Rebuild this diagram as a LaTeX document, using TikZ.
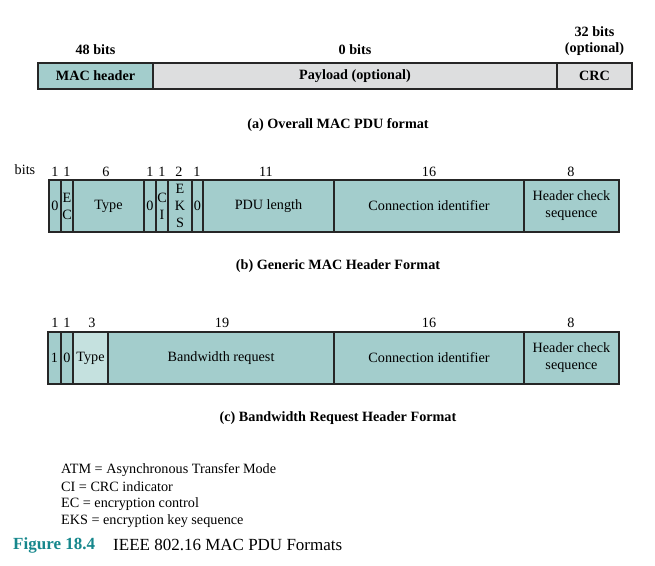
\documentclass[tikz,border=0pt]{standalone}
\usepackage{fontspec}
\setmainfont{Liberation Serif}
\usetikzlibrary{positioning}
\definecolor{cellteal}{RGB}{163,205,204}
\definecolor{celllight}{RGB}{197,225,223}
\definecolor{cellgray}{RGB}{221,222,223}
\definecolor{figteal}{RGB}{22,135,140}
\tikzset{
  cell/.style={line width=1.3pt, draw=black!85},
  lbl/.style={inner sep=0pt, align=center, font=\fontsize{14.2}{17}\selectfont},
  bitnum/.style={inner sep=0pt, font=\fontsize{14.2}{16}\selectfont},
  capt/.style={inner sep=0pt, font=\fontsize{14.2}{16}\selectfont\bfseries},
  legend/.style={inner sep=0pt, anchor=west, font=\fontsize{14.2}{16}\selectfont}
}

\begin{document}
\begin{tikzpicture}[x=1pt,y=-1pt]
\useasboundingbox (0,0) rectangle (655,565);
% (a) overall MAC PDU
\foreach \l/\r/\c in {38/153/cellteal, 153/557/cellgray, 557/632/cellgray} {
    \filldraw[cell, fill=\c] (\l,63) rectangle (\r,89);
}
\node[capt] (machdr) at (95.5,76) {MAC header};
\node[capt] (payload) at (355,76) {Payload (optional)};
\node[capt] (crc) at (594.5,76) {CRC};
\node[capt] (machdrbits) at (95.5,50) {48 bits};
\node[capt] (payloadbits) at (355,50) {0 bits};
\node[capt, align=center, font=\fontsize{14.2}{16.5}\selectfont\bfseries] (crcbits) at (594.5,41) {32 bits\\(optional)};
\node[capt] (capta) at (338,125) {(a) Overall MAC PDU format};

% (b) generic MAC header
\foreach \l/\r/\t [count=\i] in {49/61/0, 61/73/{E\\C}, 73/144/Type, 144/156/0,
    156/168/{C\\I}, 168/192/{E\\K\\S}, 192/203/0, 203/334/PDU length,
    334/524/Connection identifier, 524/619/{Header check\\sequence}} {
    \filldraw[cell, fill=cellteal] (\l,180) rectangle (\r,232);
    \node[lbl] (gen\i) at ({(\l+\r)/2},206) {\t};
}
\node[bitnum] (bitslbl) at (25,170) {bits};
\foreach \x/\t [count=\i] in {55/1, 67/1, 106/6, 150/1, 162/1, 179/2, 197/1, 266/11, 429/16, 571/8} {
    \node[bitnum] (genbits\i) at (\x,172) {\t};
}
\node[capt] (captb) at (338,266) {(b) Generic MAC Header Format};

% (c) bandwidth request header
\foreach \l/\r/\c/\t [count=\i] in {48/61/cellteal/1, 61/73/cellteal/0, 73/108/celllight/Type,
    108/334/cellteal/Bandwidth request, 334/524/cellteal/Connection identifier,
    524/619/cellteal/{Header check\\sequence}} {
    \filldraw[cell, fill=\c] (\l,332) rectangle (\r,384);
    \node[lbl] (bw\i) at ({(\l+\r)/2},358) {\t};
}
\foreach \x/\t [count=\i] in {55/1, 67/1, 92/3, 222/19, 429/16, 571/8} {
    \node[bitnum] (bwbits\i) at (\x,323) {\t};
}
\node[capt] (captc) at (338,418) {(c) Bandwidth Request Header Format};

% legend
\node[legend] (atm) at (61,470) {ATM = Asynchronous Transfer Mode};
\node[legend] (ci) at (61,487) {CI = CRC indicator};
\node[legend] (ec) at (61,504) {EC = encryption control};
\node[legend] (eks) at (61,521) {EKS = encryption key sequence};
\node[legend, font=\fontsize{17}{19}\selectfont\bfseries, text=figteal] (fignum) at (13,545) {Figure 18.4};
\node[legend, font=\fontsize{17}{19}\selectfont] (figtitle) at (113,545) {IEEE 802.16 MAC PDU Formats};
\end{tikzpicture}
\end{document}
